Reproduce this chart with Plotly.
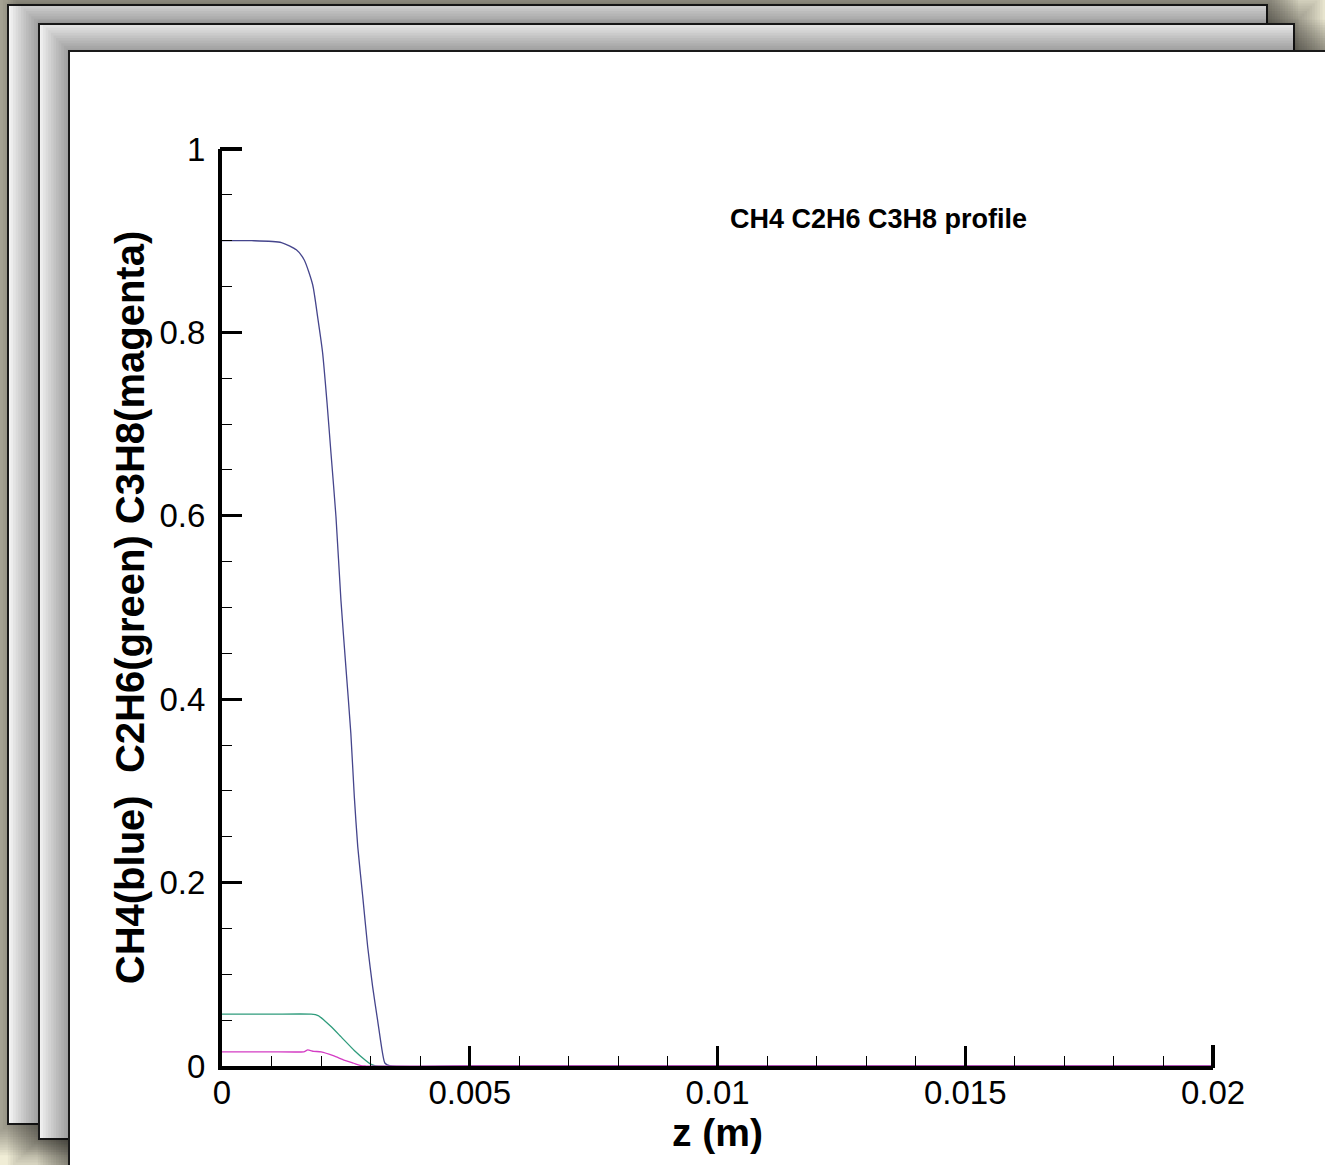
import plotly.graph_objects as go

# ---------------- data ----------------
z_ch4 = [0.0, 0.0006, 0.0012, 0.0015, 0.00166, 0.00183, 0.00193, 0.00203, 0.00212,
         0.00220, 0.00230, 0.00240, 0.00250, 0.00260, 0.00267, 0.00274, 0.00284,
         0.00294, 0.00304, 0.00314, 0.00324, 0.00329, 0.0034, 0.005, 0.01, 0.015, 0.02]
y_ch4 = [0.900, 0.900, 0.898, 0.890, 0.879, 0.852, 0.817, 0.778, 0.723,
         0.668, 0.599, 0.508, 0.435, 0.363, 0.294, 0.239, 0.185,
         0.130, 0.0865, 0.050, 0.014, 0.003, 0.0, 0.0, 0.0, 0.0, 0.0]

z_c2h6 = [0.0, 0.0010, 0.0018, 0.00194, 0.00206, 0.00220, 0.00240, 0.00267,
          0.00290, 0.00300, 0.0031, 0.005, 0.01, 0.015, 0.02]
y_c2h6 = [0.0565, 0.0565, 0.0565, 0.055, 0.050, 0.043, 0.032, 0.017,
          0.006, 0.002, 0.0, 0.0, 0.0, 0.0, 0.0]

z_c3h8 = [0.0, 0.0010, 0.00165, 0.00173, 0.00185, 0.00200, 0.00226, 0.00246,
          0.00266, 0.0028, 0.0029, 0.005, 0.01, 0.015, 0.02]
y_c3h8 = [0.0155, 0.0155, 0.0155, 0.0175, 0.016, 0.0155, 0.011, 0.0065,
          0.003, 0.0005, 0.0, 0.0, 0.0, 0.0, 0.0]

x_ticks = [0, 0.005, 0.01, 0.015, 0.02]
x_tick_text = ["0", "0.005", "0.01", "0.015", "0.02"]
y_ticks = [0, 0.2, 0.4, 0.6, 0.8, 1]
y_tick_text = ["0", "0.2", "0.4", "0.6", "0.8", "1"]

title_text = "CH4 C2H6 C3H8 profile"
x_title = "z (m)"
y_title = "CH4(blue)\u00a0\u00a0C2H6(green) C3H8(magenta)"

# ---------------- layout geometry ----------------
W, H = 1325, 1165
L, R, T, B = 222, 1213, 149, 1066   # plot area in pixels
FONT = "Liberation Sans, Arial, sans-serif"


def px(x):
    return (x - L) / (R - L)


def py(y):
    return (B - y) / (B - T)


shapes = []


def page(x0, y0, x1, y1):
    # soft shadow made of stacked translucent rectangles
    for i in range(12, 0, -1):
        d = i * 2.6
        shapes.append(dict(type="rect", xref="paper", yref="paper", layer="below",
                           x0=px(x0 - d), x1=px(x1 + d), y0=py(y0 - d), y1=py(y1 + d),
                           fillcolor="rgba(0,0,0,0.035)", line=dict(width=0)))
    shapes.append(dict(type="rect", xref="paper", yref="paper", layer="below",
                       x0=px(x0), x1=px(x1), y0=py(y0), y1=py(y1),
                       fillcolor="white", line=dict(color="#1a1a1a", width=2)))


page(8, 5, 1267, 1124)
page(39, 24, 1294, 1139)
page(69, 51, 1360, 1200)

# end ticks at the plot edges (Plotly drops inside ticks there); paper refs so
# they are not clipped by the plot area
shapes.append(dict(type="line", xref="paper", yref="paper", x0=1, x1=1,
                   ysizemode="pixel", yanchor=0, y0=-2, y1=21,
                   line=dict(color="black", width=4)))
shapes.append(dict(type="line", xref="paper", yref="paper", y0=1, y1=1,
                   xsizemode="pixel", xanchor=0, x0=-2, x1=20,
                   line=dict(color="black", width=4)))

fig = go.Figure()
fig.add_trace(go.Scatter(x=z_ch4, y=y_ch4, mode="lines", name="CH4",
                         line=dict(color="#45458c", width=1.3, shape="spline", smoothing=0.6)))
fig.add_trace(go.Scatter(x=z_c2h6, y=y_c2h6, mode="lines", name="C2H6",
                         line=dict(color="#2f9c7c", width=1.3, shape="spline", smoothing=0.6)))
fig.add_trace(go.Scatter(x=z_c3h8, y=y_c3h8, mode="lines", name="C3H8",
                         line=dict(color="#d43cc4", width=1.3, shape="spline", smoothing=0.4)))

fig.add_annotation(x=0.01325, y=0.9237, xref="x", yref="y",
                   text="<b>" + title_text + "</b>",
                   showarrow=False, font=dict(family=FONT, size=27, color="black"))

fig.update_layout(
    width=W, height=H,
    margin=dict(l=L, r=W - R, t=T, b=H - B, pad=0),
    paper_bgcolor="#f0edd6",
    plot_bgcolor="rgba(0,0,0,0)",
    showlegend=False,
    shapes=shapes,
    font=dict(family=FONT, color="black"),
    xaxis=dict(range=[0, 0.02], tickmode="array", tickvals=x_ticks, ticktext=x_tick_text,
               ticks="inside", ticklen=20, tickwidth=3, tickcolor="black",
               minor=dict(ticks="inside", ticklen=10, tickwidth=1.3, tickcolor="black",
                          dtick=0.001, tick0=0),
               showline=True, linewidth=4, linecolor="black", mirror=False,
               showgrid=False, zeroline=False, ticklabelstandoff=-6,
               tickfont=dict(family=FONT, size=33, color="black"),
               title=dict(text="<b>" + x_title + "</b>", standoff=0,
                          font=dict(family=FONT, size=39, color="black"))),
    yaxis=dict(range=[0, 1], tickmode="array", tickvals=y_ticks, ticktext=y_tick_text,
               ticks="inside", ticklen=20, tickwidth=3, tickcolor="black",
               minor=dict(ticks="inside", ticklen=10, tickwidth=1.3, tickcolor="black",
                          dtick=0.05, tick0=0),
               showline=True, linewidth=4, linecolor="black", mirror=False,
               showgrid=False, zeroline=False, ticklabelstandoff=6,
               tickfont=dict(family=FONT, size=33, color="black"),
               title=dict(text="<b>" + y_title + "</b>", standoff=4,
                          font=dict(family=FONT, size=40, color="black"))),
)

fig.write_html("out.html")
